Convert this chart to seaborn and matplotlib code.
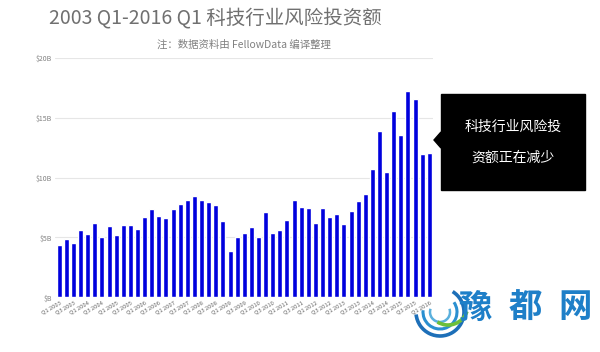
import matplotlib
matplotlib.use("Agg")
import matplotlib.pyplot as plt
import seaborn as sns
import pandas as pd
from matplotlib.patches import Rectangle, Polygon, Arc

quarters = [f"Q{q} {y}" for y in range(2003, 2017) for q in (1, 2, 3, 4)][:53]
values = [4.36, 4.9, 4.55, 5.6, 5.33, 6.25, 5.0, 6.0, 5.2, 6.08, 6.03, 5.7, 6.7,
          7.4, 6.8, 6.65, 7.4, 7.83, 8.1, 8.47, 8.1, 7.97, 7.7, 6.4, 3.83, 5.03,
          5.38, 5.86, 5.03, 7.14, 5.4, 5.66, 6.44, 8.14, 7.53, 7.47, 6.25, 7.47,
          6.69, 7.0, 6.1, 7.25, 8.02, 8.67, 10.75, 13.94, 10.44, 15.6, 13.6,
          17.28, 16.58, 11.94, 12.1]
ytick_vals = [0, 5, 10, 15, 20]
ytick_labels = ["$B", "$5B", "$10B", "$15B", "$20B"]
title = "2003 Q1-2016 Q1 科技行业风险投资额"
subtitle = "注：数据资料由 FellowData 编译整理"
callout = ["科技行业风险投", "资额正在减少"]
watermark = ["豫", "都", "网"]

df = pd.DataFrame({"quarter": quarters, "value": values})

sns.set_theme(style="white")
plt.rcParams['font.family'] = ['Noto Sans CJK SC', 'DejaVu Sans']

fig = plt.figure(figsize=(6, 3.52), dpi=100)
ax = fig.add_axes([0.0917, 0.1554, 0.63, 0.6796])
sns.barplot(data=df, x="quarter", y="value", color="#0000dd", saturation=1,
            width=0.7, ax=ax, zorder=3)
ax.set_ylim(0, 20)
ax.set_xlim(-0.59, 52.52)
ax.set_yticks(ytick_vals)
ax.set_yticklabels(ytick_labels, fontsize=5, color="#808080")
ax.yaxis.grid(True, color="#e6e6e6", linewidth=0.8, zorder=0)
ax.set_axisbelow(True)
ticks = list(range(0, 53, 2))
ax.set_xticks(ticks)
ax.set_xticklabels([quarters[i] for i in ticks], rotation=30, ha="right",
                   rotation_mode="anchor", fontsize=4.2, color="#666666")
ax.tick_params(axis="both", length=0, pad=2)
ax.set_xlabel("")
ax.set_ylabel("")
for s in ax.spines.values():
    s.set_visible(False)

fig.text(215 / 600, 1 - 19 / 352, title, ha="center", va="center",
         fontsize=14, color="#707070", fontweight="light")
fig.text(244 / 600, 1 - 45 / 352, subtitle, ha="center", va="center",
         fontsize=7.5, color="#808080")

# callout box
box = Rectangle((441 / 600, 1 - 190 / 352), 144 / 600, 96 / 352,
                transform=fig.transFigure, color="black", zorder=5)
fig.patches.append(box)
tri = Polygon([(441 / 600, 1 - 132 / 352), (434 / 600, 1 - 140 / 352),
               (441 / 600, 1 - 148 / 352)], closed=True,
              transform=fig.transFigure, color="black", zorder=5)
fig.patches.append(tri)
fig.text(513 / 600, 1 - 127 / 352, callout[0], ha="center", va="center",
         fontsize=10, color="white", zorder=6)
fig.text(513 / 600, 1 - 158 / 352, callout[1], ha="center", va="center",
         fontsize=10, color="white", zorder=6)

# watermark
for i, ch in enumerate(watermark):
    fig.text((475 + i * 50) / 600, 1 - 308 / 352, ch, ha="center", va="center",
             fontsize=24, color="#1e7fc8", fontweight="bold", zorder=6)
for (w, th1, th2, col, lw) in [(48, 190, 430, "#1d6fb8", 2.6), (34, 170, 410, "#2a8fd0", 2.2),
                               (20, 150, 390, "#5ab0dd", 1.8)]:
    arc = Arc((440 / 600, 1 - 312 / 352), w / 600, w / 352, theta1=th1, theta2=th2,
              transform=fig.transFigure, color=col, linewidth=lw, zorder=6)
    fig.patches.append(arc)
arc = Arc((448 / 600, 1 - 305 / 352), 40 / 600, 40 / 352, theta1=250, theta2=330,
          transform=fig.transFigure, color="#6cbf3a", linewidth=2.6, zorder=6)
fig.patches.append(arc)

fig.savefig("out.png", dpi=100)
